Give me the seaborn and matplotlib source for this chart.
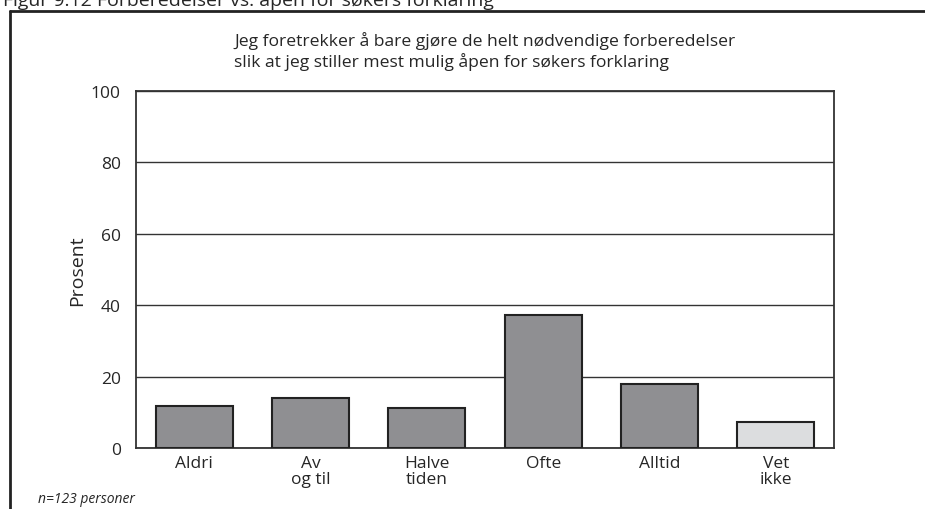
import matplotlib
matplotlib.use("Agg")
import matplotlib.pyplot as plt
from matplotlib.lines import Line2D
import seaborn as sns
import pandas as pd

# data (percent of n=123)
categories = ["Aldri", "Av\nog til", "Halve\ntiden", "Ofte", "Alltid", "Vet\nikke"]
percent = [11.9, 14.0, 11.2, 37.2, 17.8, 7.3]
bar_colors = ["#8e8f93", "#8e8f93", "#8e8f93", "#8e8f93", "#8e8f93", "#dcdddf"]
y_ticks = [0, 20, 40, 60, 80, 100]

df = pd.DataFrame({"kategori": categories, "prosent": percent})

sns.set_theme(style="white")
plt.rcParams["font.family"] = ["Open Sans", "DejaVu Sans"]

fig = plt.figure(figsize=(9.25, 5.1), dpi=100)
ax = fig.add_axes([136 / 925, 1 - 449 / 510, 698 / 925, 357 / 510])

sns.barplot(data=df, x="kategori", y="prosent", hue="kategori",
            palette=bar_colors, legend=False, width=0.66,
            edgecolor="#222222", linewidth=1.5, ax=ax, zorder=3)

ax.set_ylim(0, 100)
ax.set_yticks(y_ticks)
ax.set_xlim(-0.5, 5.5)
ax.yaxis.grid(True, color="#333333", linewidth=1)
ax.set_axisbelow(True)
for s in ax.spines.values():
    s.set_color("#333333")
    s.set_linewidth(1.3)
ax.tick_params(axis="y", length=9, width=1, color="#333333", labelsize=12.5, pad=2)
ax.tick_params(axis="x", length=0, labelsize=12.5, pad=5)
for t in ax.get_xticklabels():
    t.set_linespacing(1.0)
ax.set_xlabel("")
ax.set_ylabel("Prosent", fontsize=14, labelpad=3)

# subtitle
fig.text(234 / 925, 1 - 41 / 510, "Jeg foretrekker å bare gjøre de helt nødvendige forberedelser",
         fontsize=12.6, ha="left", va="center")
fig.text(234 / 925, 1 - 62 / 510, "slik at jeg stiller mest mulig åpen for søkers forklaring",
         fontsize=12.6, ha="left", va="center")

# figure heading, clipped at the top edge like in the source
fig.text(3 / 925, 1.0, "Figur 9.12 Forberedelser vs. åpen for søkers forklaring",
         fontsize=14, ha="left", va="center")

# note
fig.text(38 / 925, 1 - 500 / 510, "n=123 personer", fontsize=10, style="italic",
         ha="left", va="center")

# outer frame (left and top edges)
fig.add_artist(Line2D([10 / 925, 10 / 925], [0, 1 - 12 / 510], color="#222222", linewidth=2))
fig.add_artist(Line2D([10 / 925, 1], [1 - 12 / 510, 1 - 12 / 510], color="#222222", linewidth=2))

fig.savefig("out.png", dpi=100)
